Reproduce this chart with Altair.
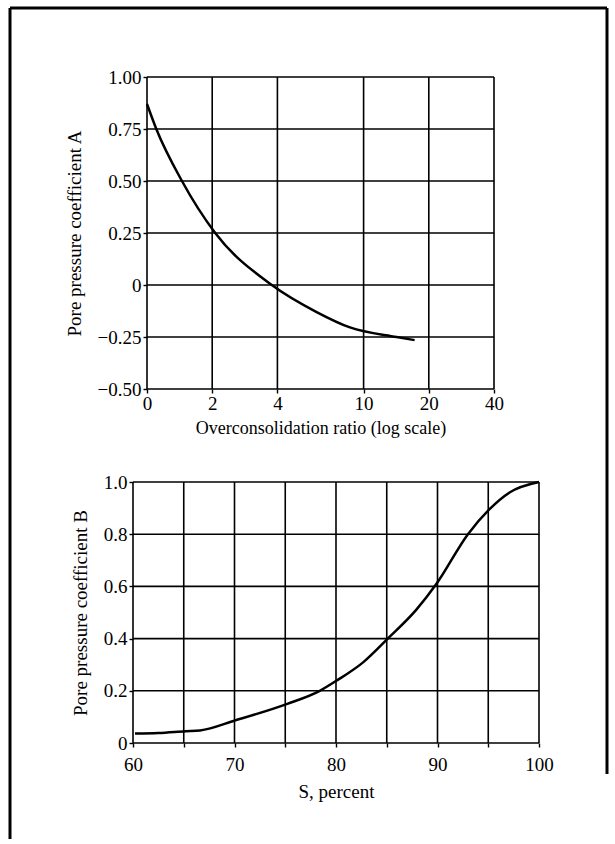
import altair as alt
import pandas as pd

# ---- data ----
ocr = [1.0, 1.104, 1.45, 2.065, 3.77, 6.07, 8.65, 14.2, 17.2]
coef_a = [0.87, 0.75, 0.50, 0.25, 0.0, -0.13, -0.204, -0.25, -0.265]

sat = [60.2, 62.5, 65.2, 66.6, 70.1, 75.2, 78.4, 80.1, 82.7, 85.1, 87.9, 89.9, 93.0, 95.1, 97.1, 100.0]
coef_b = [0.036, 0.038, 0.045, 0.048, 0.087, 0.15, 0.20, 0.24, 0.31, 0.40, 0.51, 0.61, 0.80, 0.895, 0.96, 1.0]

ocr_ticks = [1, 2, 4, 10, 20, 40]
a_ticks = [-0.5, -0.25, 0, 0.25, 0.5, 0.75, 1.0]
s_ticks = [60, 65, 70, 75, 80, 85, 90, 95, 100]
b_ticks = [0, 0.2, 0.4, 0.6, 0.8, 1.0]

FONT = "Liberation Serif"

df_a = pd.DataFrame({"ocr": ocr, "A": coef_a})
df_b = pd.DataFrame({"S": sat, "B": coef_b})
grid_ocr = pd.DataFrame({"ocr": ocr_ticks})
grid_a = pd.DataFrame({"A": a_ticks})
grid_s = pd.DataFrame({"S": s_ticks})
grid_b = pd.DataFrame({"B": b_ticks})

# layout (pixels, relative to the shared plot origin)
W, H = 406, 666
TOP_X = [14, 361]
TOP_Y = [312, 0]
BOT_X = [0, 406]
BOT_Y = [666, 405]
GRID_W = 1.6

x_a = alt.X("ocr:Q",
            scale=alt.Scale(type="log", domain=[1, 40], range=TOP_X),
            axis=alt.Axis(values=ocr_ticks, orient="bottom", offset=-(H - TOP_Y[0]),
                          labelExpr="datum.value == 1 ? '0' : format(datum.value, 'd')",
                          title="Overconsolidation ratio (log scale)",
                          titleFontSize=18,
                          labelPadding=1, titlePadding=6))
y_a = alt.Y("A:Q",
            scale=alt.Scale(domain=[-0.5, 1.0], nice=False, range=TOP_Y),
            axis=alt.Axis(values=a_ticks, orient="left", offset=-TOP_X[0],
                          labelExpr="datum.value == 0 ? '0' : format(datum.value, '.2f')",
                          title="Pore pressure coefficient A",
                          labelPadding=2, titlePadding=13))

top = alt.layer(
    alt.Chart(grid_ocr).mark_rule(color="black", strokeWidth=GRID_W).encode(
        x=x_a, y=alt.value(TOP_Y[1]), y2=alt.value(TOP_Y[0])),
    alt.Chart(grid_a).mark_rule(color="black", strokeWidth=GRID_W).encode(
        y=y_a, x=alt.value(TOP_X[0]), x2=alt.value(TOP_X[1])),
    alt.Chart(df_a).mark_line(color="black", strokeWidth=2.5, interpolate="monotone").encode(
        x=x_a, y=y_a),
)

x_b = alt.X("S:Q",
            scale=alt.Scale(domain=[60, 100], nice=False, range=BOT_X),
            axis=alt.Axis(values=s_ticks, orient="bottom", offset=0,
                          labelExpr="datum.value % 10 == 0 ? format(datum.value, 'd') : ''",
                          title="S, percent",
                          labelPadding=8, titlePadding=8))
y_b = alt.Y("B:Q",
            scale=alt.Scale(domain=[0, 1.0], nice=False, range=BOT_Y),
            axis=alt.Axis(values=b_ticks, orient="left", offset=0,
                          labelExpr="datum.value == 0 ? '0' : format(datum.value, '.1f')",
                          title="Pore pressure coefficient B",
                          labelPadding=2, titlePadding=13))

bottom = alt.layer(
    alt.Chart(grid_s).mark_rule(color="black", strokeWidth=GRID_W).encode(
        x=x_b, y=alt.value(BOT_Y[1]), y2=alt.value(BOT_Y[0])),
    alt.Chart(grid_b).mark_rule(color="black", strokeWidth=GRID_W).encode(
        y=y_b, x=alt.value(BOT_X[0]), x2=alt.value(BOT_X[1])),
    alt.Chart(df_b).mark_line(color="black", strokeWidth=2.5, interpolate="monotone").encode(
        x=x_b, y=y_b),
)

def rule(x, x2, y, y2):
    return alt.Chart(pd.DataFrame({"k": [0]})).mark_rule(color="black", strokeWidth=3).encode(
        x=alt.value(x), x2=alt.value(x2), y=alt.value(y), y2=alt.value(y2))

frame = alt.layer(
    rule(-123, -123, -69, 762),
    rule(474, 474, -69, 697),
    rule(-123, 474, -69, -69),
)

chart = alt.layer(top, bottom, frame).resolve_scale(
    x="independent", y="independent"
).resolve_axis(
    x="independent", y="independent"
).properties(
    width=W, height=H,
    padding={"left": 8, "top": 6, "right": 0, "bottom": 0},
    background="white",
).configure_view(
    stroke="transparent"
).configure_axis(
    grid=False,
    domain=False,
    ticks=True, tickColor="black", tickSize=4, tickWidth=1.4,
    labelFont=FONT, labelFontSize=19, labelColor="black",
    titleFont=FONT, titleFontSize=19, titleFontWeight="normal", titleColor="black",
    labelFlush=False, labelOverlap=False,
)

chart.save("out.html", embed_options={"renderer": "svg", "actions": False})
